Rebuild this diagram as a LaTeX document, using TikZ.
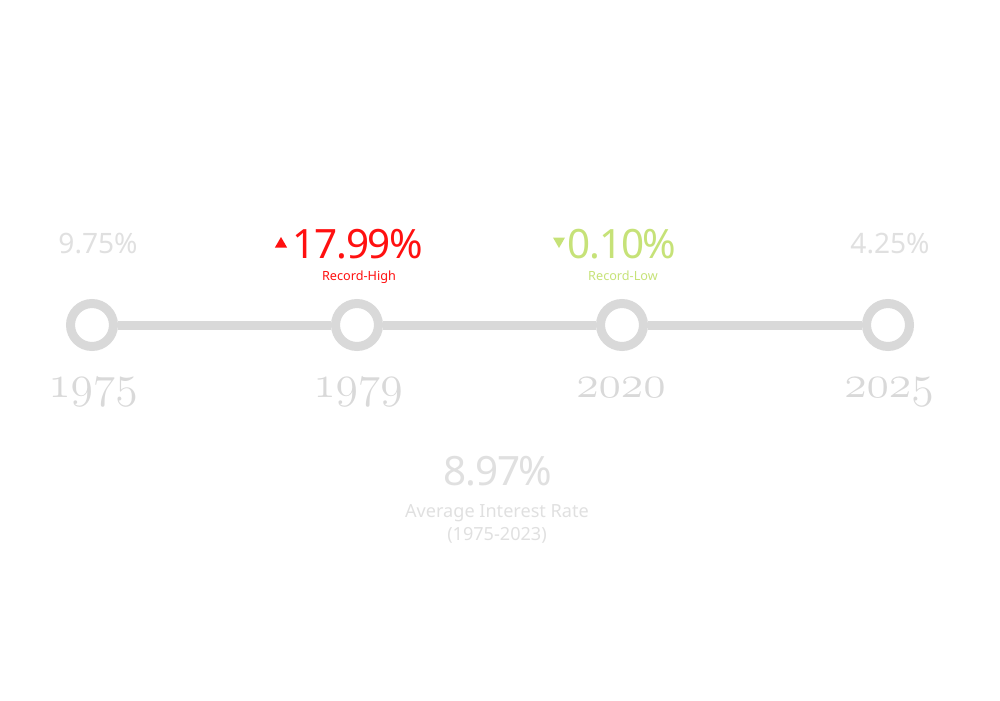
\documentclass[tikz,border=0pt]{standalone}
\usepackage{fontspec}
\setmainfont{Noto Sans}
\newfontfamily\tightsans[LetterSpace=-3]{Noto Sans}
\usetikzlibrary{shapes.geometric}
\font\yearfont=cmmi12 at 26pt

\definecolor{ringgray}{RGB}{217,217,217}
\definecolor{softgray}{RGB}{224,224,224}
\definecolor{highred}{RGB}{255,16,16}
\definecolor{lowgreen}{RGB}{198,226,120}

\begin{document}
\begin{tikzpicture}[x=0.02cm,y=-0.02cm]
    \tikzstyle{stop}=[circle, draw=ringgray, fill=white, line width=0.18cm, minimum size=0.86cm, inner sep=0pt]
    \tikzstyle{track}=[ringgray, line width=0.18cm]
    \tikzstyle{year}=[anchor=base, text=ringgray, inner sep=0pt, font=\yearfont]
    \tikzstyle{rate}=[anchor=base, text=softgray, inner sep=0pt, font=\fontsize{16}{18}\selectfont]
    \tikzstyle{peak}=[anchor=base, inner sep=0pt, font=\tightsans\fontsize{23}{26}\selectfont]
    \tikzstyle{note}=[anchor=base, inner sep=0pt, font=\fontsize{7.2}{9}\selectfont]
    \tikzstyle{arrowhead}=[regular polygon, regular polygon sides=3, inner sep=0pt, minimum size=0.28cm]
    \useasboundingbox (0,0) rectangle (1000,700);

    \foreach \yr/\x/\lx in {1975/92/93, 1979/357/358, 2020/622/621, 2025/888/889}{
        \node[stop] (s\yr) at (\x,325) {};
        \node[year] (y\yr) at (\lx,397) {\yr};
    }
    \draw[track] (s1975) -- (s1979);
    \draw[track] (s1979) -- (s2020);
    \draw[track] (s2020) -- (s2025);

    \node[rate] (r1975) at (98,253) {9.75\%};
    \node[rate] (r2025) at (890,253) {4.25\%};

    \node[peak, text=highred] (r1979) at (358,258) {17.99\%};
    \node[arrowhead, fill=highred] (up) at (281,244) {};
    \node[note, text=highred] (high) at (359,280) {Record-High};

    \node[peak, text=lowgreen] (r2020) at (622,258) {0.10\%};
    \node[arrowhead, fill=lowgreen, rotate=180] (down) at (559,241) {};
    \node[note, text=lowgreen] (low) at (623,280) {Record-Low};

    \node[peak, text=softgray] (avg) at (498,485) {8.97\%};
    \node[anchor=base, text=softgray, inner sep=0pt, font=\fontsize{10.3}{13}\selectfont] (avglabel) at (497,517) {Average Interest Rate};
    \node[anchor=base, text=softgray, inner sep=0pt, font=\fontsize{10.3}{13}\selectfont] (avgyears) at (497,540) {(1975-2023)};
\end{tikzpicture}
\end{document}
